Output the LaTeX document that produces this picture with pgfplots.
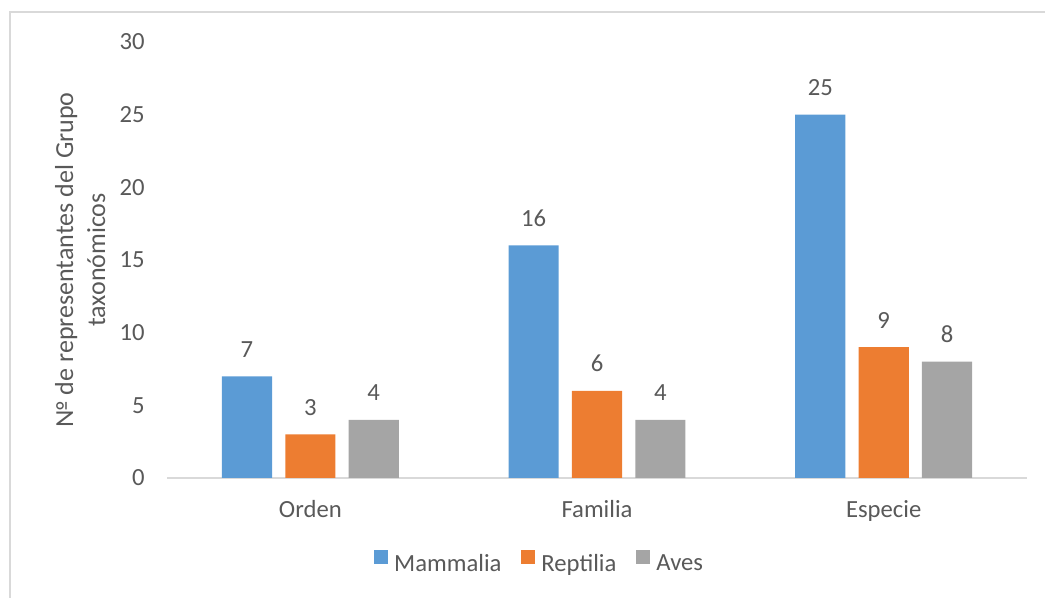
\documentclass[border=0pt]{standalone}
\usepackage{fontspec}
\setmainfont{Carlito}
\usepackage{pgfplots}
\pgfplotsset{compat=1.18}
\definecolor{cblue}{HTML}{5B9BD5}
\definecolor{corange}{HTML}{ED7D31}
\definecolor{cgray}{HTML}{A5A5A5}
\definecolor{ctext}{HTML}{595959}
\definecolor{cline}{HTML}{D9D9D9}
\begin{document}
\fontsize{18.5}{22}\selectfont
\begin{tikzpicture}
\useasboundingbox (0,0) rectangle (783.75pt,448.5pt);
% outer chart frame (only top and left edges show)
\draw[cline, line width=1.5pt] (7.5pt,0) -- (7.5pt,439.5pt) -- (790pt,439.5pt);
\begin{axis}[
    at={(125.25pt,90pt)}, anchor=south west,
    scale only axis, width=645pt, height=327pt,
    ybar, bar width=0.175,
    ymin=0, ymax=30, ytick={0,5,...,30},
    xmin=-0.5, xmax=2.5, xtick={0,1,2},
    xticklabels={Orden,Familia,Especie},
    axis x line*=bottom, axis y line*=left,
    y axis line style={draw=none},
    x axis line style={-, draw=cline, line width=1.3pt},
    major tick length=0pt,
    /pgf/number format/assume math mode=true,
    tick label style={text=ctext, inner sep=0pt},
    yticklabel style={anchor=east, xshift=-16.5pt},
    xticklabel style={anchor=base, yshift=-30pt},
    ylabel={№ de representantes del Grupo\\taxonómicos},
    ylabel style={at={(axis description cs:-0.101,0.5)}, anchor=center,
        align=center, text=ctext, font=\fontsize{19.5}{24}\selectfont},
    nodes near coords,
    every node near coord/.append style={text=ctext, anchor=south,
        inner sep=0pt, yshift=14pt},
    legend columns=3,
    legend image code/.code={\fill[#1] (0pt,0pt) rectangle (10.5pt,10.5pt);
        \path (13pt,0pt);},
    legend style={at={(rel axis cs:0.4337,-0.197)}, anchor=center,
        draw=none, text=ctext,
        /tikz/every even column/.append style={column sep=13pt}},
]
\addplot[fill=cblue, draw=none, bar shift=-0.221]
    coordinates {(0,7) (1,16) (2,25)};
\addplot[fill=corange, draw=none, bar shift=0]
    coordinates {(0,3) (1,6) (2,9)};
\addplot[fill=cgray, draw=none, bar shift=0.221]
    coordinates {(0,4) (1,4) (2,8)};
\legend{Mammalia,Reptilia,Aves}
\end{axis}
\end{tikzpicture}
\end{document}
